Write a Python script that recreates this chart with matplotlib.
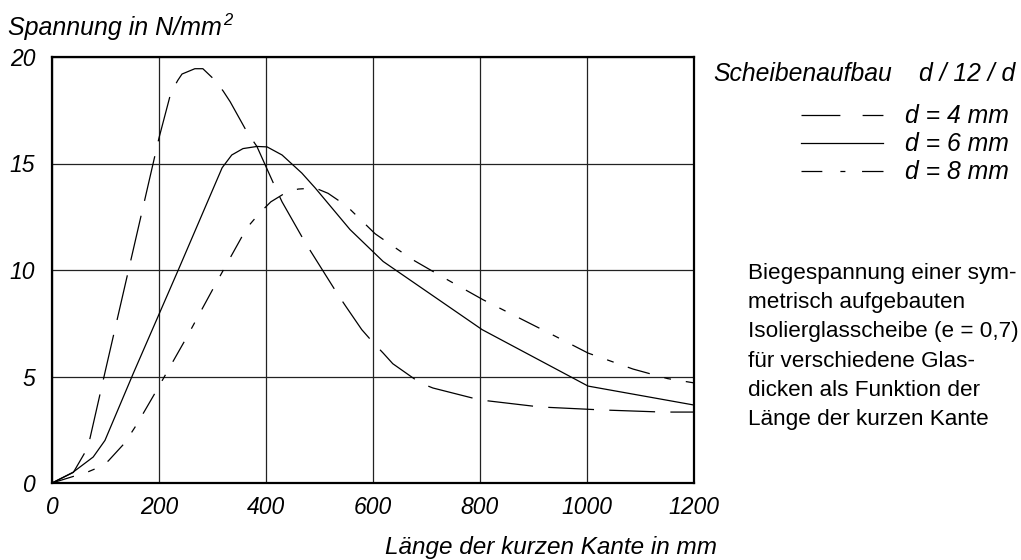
import matplotlib
matplotlib.use("Agg")
import matplotlib.pyplot as plt
from matplotlib.lines import Line2D

plt.rcParams['font.family'] = ['Liberation Sans', 'DejaVu Sans']
plt.rcParams['lines.scale_dashes'] = False

# ---- data ----
d4_x = [0, 40, 62, 71, 100, 150, 200, 222, 235, 243, 267, 282, 305, 320, 333, 364,
        383, 417, 430, 473, 488, 533, 549, 579, 600, 619, 637, 654, 688, 712, 800,
        912, 1028, 1142, 1200]
d4_y = [0, 0.5, 1.45, 2.1, 5.3, 10.75, 16.2, 18.3, 18.9, 19.2, 19.45, 19.45, 18.9,
        18.4, 17.9, 16.5, 15.8, 13.9, 13.2, 11.3, 10.7, 8.9, 8.3, 7.2, 6.6, 6.1, 5.6,
        5.3, 4.7, 4.46, 3.9, 3.57, 3.43, 3.33, 3.33]

d6_x = [0, 39, 77, 99, 152, 236, 318, 336, 357, 383, 402, 430, 467, 492, 557, 619,
        804, 1002, 1200]
d6_y = [0, 0.5, 1.22, 2.0, 5.15, 10.0, 14.8, 15.4, 15.7, 15.8, 15.78, 15.4, 14.55,
        13.85, 11.9, 10.4, 7.2, 4.55, 3.66]

d8_x = [0, 67, 84, 105, 136, 159, 196, 252, 308, 364, 389, 409, 435, 460, 492, 516,
        551, 604, 673, 735, 806, 877, 940, 1002, 1086, 1151, 1200]
d8_y = [0, 0.52, 0.7, 1.03, 1.88, 2.77, 4.37, 6.85, 9.44, 11.97, 12.7, 13.2, 13.6,
        13.8, 13.85, 13.6, 13.0, 11.7, 10.5, 9.6, 8.6, 7.7, 6.9, 6.1, 5.35, 4.9, 4.7]

x_ticks = [0, 200, 400, 600, 800, 1000, 1200]
y_ticks = [0, 5, 10, 15, 20]
series_labels = ['d = 4 mm', 'd = 6 mm', 'd = 8 mm']
description = ['Biegespannung einer sym-',
               'metrisch aufgebauten',
               'Isolierglasscheibe (e = 0,7)',
               'für verschiedene Glas-',
               'dicken als Funktion der',
               'Länge der kurzen Kante']

W, H = 1021, 560
fig = plt.figure(figsize=(W / 100, H / 100), dpi=100)


def fx(px):
    return px / W


def fy(py):
    return 1 - py / H


ax = fig.add_axes([fx(52), fy(483), fx(694) - fx(52), fy(57) - fy(483)])

dash4 = (0, (33, 11))
dash8 = (0, (16.5, 10.8, 5, 10.8))
lw = 0.9
ax.plot(d4_x, d4_y, color='black', lw=lw, linestyle=dash4)
ax.plot(d6_x, d6_y, color='black', lw=lw, linestyle='-')
ax.plot(d8_x, d8_y, color='black', lw=lw, linestyle=dash8)

ax.set_xlim(0, 1200)
ax.set_ylim(0, 20)
ax.set_xticks(x_ticks)
ax.set_yticks(y_ticks)
ax.grid(True, color='#222222', lw=0.9)
ax.set_axisbelow(True)
for s in ax.spines.values():
    s.set_linewidth(1.6)
    s.set_color('black')
ax.tick_params(length=0, labelsize=16.5)
ax.tick_params(axis='y', pad=12)
ax.tick_params(axis='x', pad=9)
for lab in ax.get_xticklabels() + ax.get_yticklabels():
    lab.set_fontstyle('italic')

# axis titles
t_y = fig.text(fx(8), fy(35), 'Spannung in N/mm', fontsize=18, style='italic',
               ha='left', va='baseline')
fig.canvas.draw()
bb = t_y.get_window_extent()
fig.text(bb.x1 / W + 0.001, fy(25), '2', fontsize=12, style='italic',
         ha='left', va='baseline')
fig.text(fx(717), fy(554), 'Länge der kurzen Kante in mm', fontsize=17.5,
         style='italic', ha='right', va='baseline')

# legend
fig.text(fx(713), fy(81), 'Scheibenaufbau', fontsize=17.8, style='italic',
         ha='left', va='baseline')
fig.text(fx(1015), fy(81), 'd / 12 / d', fontsize=17.8, style='italic',
         ha='right', va='baseline')
leg_styles = [(0, (28, 16, 15, 100)), '-', (0, (15, 13, 3.6, 12, 16, 100))]
leg_y = [115, 143, 171]
base_y = [123, 151, 179]
for lbl, st, ly, by in zip(series_labels, leg_styles, leg_y, base_y):
    fig.add_artist(Line2D([fx(801), fx(883)], [fy(ly), fy(ly)], color='black',
                          lw=lw, linestyle=st, transform=fig.transFigure))
    fig.text(fx(905), fy(by), lbl, fontsize=17.8, style='italic',
             ha='left', va='baseline')

# description
for i, line in enumerate(description):
    fig.text(fx(748), fy(279 + i * 29.2), line, fontsize=16.2,
             ha='left', va='baseline')

fig.savefig('out.png', dpi=100)
